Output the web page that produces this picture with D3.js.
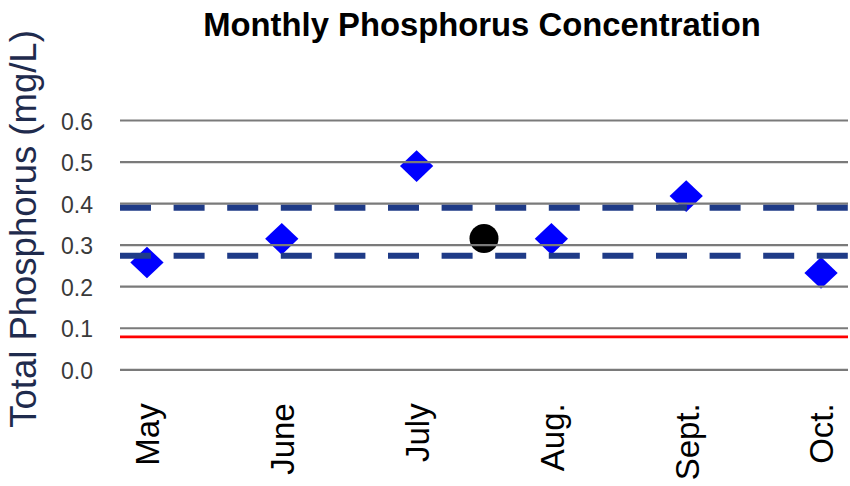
<!DOCTYPE html>
<html>
<head>
<meta charset="utf-8">
<script src="https://cdn.jsdelivr.net/npm/d3@7"></script>
<style>
  body { margin: 0; background: #fff; }
  svg { display: block; font-family: "Liberation Sans", Arial, sans-serif; }
</style>
</head>
<body>
<svg id="chart" width="850" height="486"></svg>
<script>
// chart values
const months = ['May', 'June', 'July', 'Aug.', 'Sept.', 'Oct.']
const phosphorus = [0.257, 0.314, 0.489, 0.314, 0.417, 0.232]
const seasonMean = [{ x: 2.5, y: 0.315 }]
const bandLines = [0.389, 0.273]
const criterion = [0.078]
const yTicks = [0.0, 0.1, 0.2, 0.3, 0.4, 0.5, 0.6]

const plot = { left: 120, right: 848, top: 120, bottom: 369.3 }

const svg = d3.select('#chart')

const x = d3.scaleLinear()
    .domain([-0.2, 5.2])
    .range([plot.left, plot.right])

const y = d3.scaleLinear()
    .domain([0, 0.6])
    .range([plot.bottom, plot.top])

// points first, lines are drawn over them
svg.append('g')
  .selectAll('path')
  .data(phosphorus)
  .join('path')
    .attr('d', d3.symbol(d3.symbolDiamond2, 640))
    .attr('transform', (d, i) => `translate(${x(i)},${y(d)}) scale(1.05,1)`)
    .attr('fill', '#0000ff')

svg.append('g')
  .selectAll('circle')
  .data(seasonMean)
  .join('circle')
    .attr('cx', d => x(d.x))
    .attr('cy', d => y(d.y))
    .attr('r', 14.5)
    .attr('fill', '#000')

// y axis: gridlines + labels
const yAxis = d3.axisLeft(y)
    .tickValues(yTicks)
    .tickFormat(d3.format('.1f'))
    .tickSize(-(plot.right - plot.left))
    .tickPadding(27)

svg.append('g')
    .attr('transform', `translate(${plot.left},0)`)
    .call(yAxis)
    .call(g => g.select('.domain').remove())
    .call(g => g.selectAll('.tick line')
      .attr('stroke', '#7a7a7a')
      .attr('stroke-width', 2.2))
    .call(g => g.selectAll('.tick text')
      .attr('fill', '#3a3a3a')
      .attr('font-size', 23)
      .attr('dy', '0.4em'))

// dashed band lines
svg.append('g')
  .selectAll('line')
  .data(bandLines)
  .join('line')
    .attr('x1', plot.left)
    .attr('x2', plot.right)
    .attr('y1', d => y(d))
    .attr('y2', d => y(d))
    .attr('stroke', '#1f3b87')
    .attr('stroke-width', 6)
    .attr('stroke-dasharray', '31,22.6')

// red criterion line
svg.append('g')
  .selectAll('line')
  .data(criterion)
  .join('line')
    .attr('x1', plot.left)
    .attr('x2', plot.right)
    .attr('y1', d => y(d))
    .attr('y2', d => y(d))
    .attr('stroke', '#ff0000')
    .attr('stroke-width', 2.6)

// x axis: rotated month labels
const xAxis = d3.axisBottom(x)
    .tickValues(d3.range(months.length))
    .tickFormat(i => months[i])
    .tickSize(0)

svg.append('g')
    .attr('transform', `translate(0,${plot.bottom})`)
    .call(xAxis)
    .call(g => g.select('.domain').remove())
    .call(g => g.selectAll('.tick text')
      .attr('fill', '#000')
      .attr('font-size', 33)
      .attr('text-anchor', 'end')
      .attr('transform', 'rotate(-90)')
      .attr('x', -34)
      .attr('y', 0)
      .attr('dy', '0.36em'))

// title
svg.append('text')
    .attr('x', 482)
    .attr('y', 36)
    .attr('text-anchor', 'middle')
    .attr('font-size', 32.8)
    .attr('font-weight', 'bold')
    .attr('fill', '#000')
    .text('Monthly Phosphorus Concentration')

// y label
svg.append('text')
    .attr('transform', 'translate(36,229) rotate(-90)')
    .attr('text-anchor', 'middle')
    .attr('font-size', 36.5)
    .attr('fill', '#1f2b4d')
    .text('Total Phosphorus (mg/L)')
</script>
</body>
</html>
